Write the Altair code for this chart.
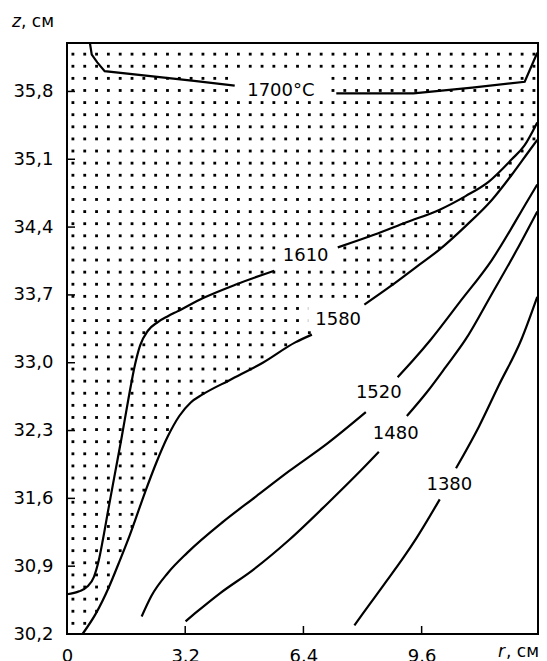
import altair as alt
import pandas as pd
import numpy as np

# ---- isotherm segments (r, cm ; z, cm), broken where labels sit ----
c1700a_r = [0.62, 0.67, 0.82, 1.02, 3.44, 4.54]
c1700a_z = [36.30, 36.18, 36.10, 36.01, 35.91, 35.86]
c1700b_r = [7.29, 9.38, 10.97, 12.39, 12.73]
c1700b_z = [35.78, 35.78, 35.84, 35.90, 36.20]

c1610a_r = [0.0, 0.33, 0.55, 0.73, 0.86, 0.97, 1.13, 1.30, 1.48, 1.66, 1.84, 1.98, 2.19, 2.46, 2.73, 2.99, 3.70, 4.59, 5.61]
c1610a_z = [30.61, 30.64, 30.69, 30.79, 30.96, 31.17, 31.51, 31.86, 32.23, 32.62, 32.98, 33.18, 33.33, 33.42, 33.48, 33.53, 33.67, 33.81, 33.95]
c1610b_r = [7.33, 8.31, 9.19, 10.09, 10.79, 11.42, 12.04, 12.38, 12.73]
c1610b_z = [34.19, 34.32, 34.45, 34.58, 34.72, 34.87, 35.10, 35.24, 35.48]

c1580a_r = [0.42, 0.78, 1.13, 1.40, 1.69, 2.11, 2.42, 2.73, 3.04, 3.35, 3.66, 4.40, 5.30, 6.18, 6.63]
c1580a_z = [30.20, 30.41, 30.68, 30.93, 31.21, 31.66, 31.97, 32.24, 32.45, 32.59, 32.67, 32.82, 33.00, 33.21, 33.29]
c1580b_r = [8.05, 8.76, 9.46, 10.09, 10.79, 11.50, 12.04, 12.48, 12.73]
c1580b_z = [33.60, 33.79, 33.99, 34.17, 34.41, 34.68, 34.94, 35.17, 35.30]

c1520a_r = [2.02, 2.28, 2.73, 3.26, 4.23, 5.12, 6.01, 7.06, 8.09]
c1520a_z = [30.38, 30.59, 30.83, 31.04, 31.36, 31.62, 31.88, 32.17, 32.49]
c1520b_r = [8.95, 9.38, 9.85, 10.62, 11.50, 12.48, 12.73]
c1520b_z = [32.85, 33.03, 33.24, 33.62, 34.06, 34.68, 34.84]

c1480a_r = [3.21, 3.52, 4.14, 5.03, 6.01, 7.06, 7.96, 8.44]
c1480a_z = [30.33, 30.43, 30.62, 30.86, 31.17, 31.55, 31.89, 32.08]
c1480b_r = [9.20, 9.73, 10.26, 10.79, 11.50, 12.17, 12.73]
c1480b_z = [32.45, 32.69, 32.96, 33.24, 33.71, 34.16, 34.56]

c1380a_r = [7.78, 8.18, 8.58, 9.11, 9.46, 10.09]
c1380a_z = [30.29, 30.50, 30.71, 30.99, 31.19, 31.59]
c1380b_r = [10.53, 11.15, 11.68, 12.30, 12.73]
c1380b_z = [31.91, 32.34, 32.76, 33.24, 33.68]

# ---- labels ----
label_text = ["1610", "1580", "1520", "1480", "1380"]
label_r = [6.46, 7.34, 8.44, 8.90, 10.35]
label_z = [34.10, 33.44, 32.69, 32.26, 31.74]
top_label = ["1700°C"]
top_label_r = [5.79]
top_label_z = [35.80]

# ---- axes ----
x_ticks = [0, 3.2, 6.4, 9.6]
y_ticks = [30.2, 30.9, 31.6, 32.3, 33.0, 33.7, 34.4, 35.1, 35.8]

# ---- dotted texture (zone above the 1580 isotherm) ----
dot_cols = 0.16 + 0.32 * np.arange(40)
dot_rows = 30.31 + 0.125 * np.arange(48)

bound_r = np.array(c1580a_r + c1580b_r)
bound_z = np.array(c1580a_z + c1580b_z)
rr, zz = np.meshgrid(dot_cols, dot_rows)
rr = rr.ravel()
zz = zz.ravel()
keep = zz > np.interp(rr, bound_r, bound_z, left=0.0)
dots = pd.DataFrame({"r": rr[keep], "z": zz[keep]})

segs = {
    "1610a": (c1610a_r, c1610a_z), "1610b": (c1610b_r, c1610b_z),
    "1580a": (c1580a_r, c1580a_z), "1580b": (c1580b_r, c1580b_z),
    "1520a": (c1520a_r, c1520a_z), "1520b": (c1520b_r, c1520b_z),
    "1480a": (c1480a_r, c1480a_z), "1480b": (c1480b_r, c1480b_z),
    "1380a": (c1380a_r, c1380a_z), "1380b": (c1380b_r, c1380b_z),
}
rows = []
for k, (rs, zs) in segs.items():
    for i, (a, b) in enumerate(zip(rs, zs)):
        rows.append({"seg": k, "o": i, "r": a, "z": b})
curves = pd.DataFrame(rows)
rows = []
for k, (rs, zs) in {"1700a": (c1700a_r, c1700a_z), "1700b": (c1700b_r, c1700b_z)}.items():
    for i, (a, b) in enumerate(zip(rs, zs)):
        rows.append({"seg": k, "o": i, "r": a, "z": b})
curves1700 = pd.DataFrame(rows)

labels = pd.DataFrame({"t": label_text, "r": label_r, "z": label_z})
toplab = pd.DataFrame({"t": top_label, "r": top_label_r, "z": top_label_z})

FONT = "DejaVu Sans"
xscale = alt.Scale(domain=[0, 12.75], nice=False, zero=False)
yscale = alt.Scale(domain=[30.2, 36.3], nice=False, zero=False)
xaxis = alt.Axis(values=x_ticks, title=None, labelFlush=False, labelOverlap=False,
                 labelPadding=13,
                 labelExpr="datum.value == 0 ? '0' : format(datum.value, '.1f')")
yaxis = alt.Axis(values=y_ticks, title=None, labelFlush=False, labelOverlap=False,
                 labelPadding=14, labelBaseline="middle",
                 labelExpr="replace(format(datum.value, '.1f'), '.', ',')")


def X():
    return alt.X("r:Q", scale=xscale, axis=xaxis)


def Y():
    return alt.Y("z:Q", scale=yscale, axis=yaxis)


dot_layer = alt.Chart(dots).mark_square(size=8, color="black", opacity=1).encode(x=X(), y=Y())

box_num = alt.Chart(labels).mark_point(
    shape="M-1,-0.38H1V0.38H-1Z", size=3600, filled=True, color="white",
    opacity=1, strokeWidth=0, yOffset=-2
).encode(x=X(), y=Y())
box_top = alt.Chart(toplab).mark_point(
    shape="M-1,-0.27H1V0.27H-1Z", size=7744, filled=True, color="white",
    opacity=1, strokeWidth=0, yOffset=-4
).encode(x=X(), y=Y())

line_layer = alt.Chart(curves).mark_line(
    color="black", strokeWidth=2.2, interpolate="monotone"
).encode(x=X(), y=Y(), detail="seg:N", order="o:Q")
line1700 = alt.Chart(curves1700).mark_line(
    color="black", strokeWidth=2.2, interpolate="linear"
).encode(x=X(), y=Y(), detail="seg:N", order="o:Q")

xt = pd.DataFrame({"r": x_ticks[1:]})
yt = pd.DataFrame({"z": y_ticks[1:]})
xtick_layer = alt.Chart(xt).mark_rule(color="black", strokeWidth=1.5).encode(
    x=X(), y=alt.value(591), y2=alt.value(583))
ytick_layer = alt.Chart(yt).mark_rule(color="black", strokeWidth=1.5).encode(
    y=Y(), x=alt.value(0), x2=alt.value(8))

lab_layer = alt.Chart(labels).mark_text(
    font=FONT, fontSize=18, color="black", align="center", baseline="middle"
).encode(x=X(), y=Y(), text="t:N")
top_layer = alt.Chart(toplab).mark_text(
    font=FONT, fontSize=18, color="black", align="center", baseline="middle"
).encode(x=X(), y=Y(), text="t:N")

z_it = alt.Chart(pd.DataFrame({"t": ["z"]})).mark_text(
    font=FONT, fontSize=17, fontStyle="italic", color="black", align="left", baseline="alphabetic"
).encode(text="t:N", x=alt.value(-55), y=alt.value(-16))
z_un = alt.Chart(pd.DataFrame({"t": [", см"]})).mark_text(
    font=FONT, fontSize=17, color="black", align="left", baseline="alphabetic"
).encode(text="t:N", x=alt.value(-46), y=alt.value(-16))
r_it = alt.Chart(pd.DataFrame({"t": ["r"]})).mark_text(
    font=FONT, fontSize=17, fontStyle="italic", color="black", align="left", baseline="alphabetic"
).encode(text="t:N", x=alt.value(431), y=alt.value(614))
r_un = alt.Chart(pd.DataFrame({"t": [", см"]})).mark_text(
    font=FONT, fontSize=17, color="black", align="left", baseline="alphabetic"
).encode(text="t:N", x=alt.value(439), y=alt.value(614))

chart = alt.layer(
    dot_layer, box_num, box_top, line_layer, line1700, xtick_layer, ytick_layer,
    lab_layer, top_layer, z_it, z_un, r_it, r_un
).properties(
    width=471, height=591,
    padding={"left": 59, "top": 35, "right": 1, "bottom": 27},
    autosize=alt.AutoSizeParams(type="none"),
    background="white",
).configure_view(
    stroke="black", strokeWidth=2
).configure_axis(
    labelFont=FONT, labelFontSize=18, labelColor="black", tickSize=0,
    domain=False, grid=False, ticks=False
)

chart.save("out.html", embed_options={"renderer": "svg", "actions": False})
